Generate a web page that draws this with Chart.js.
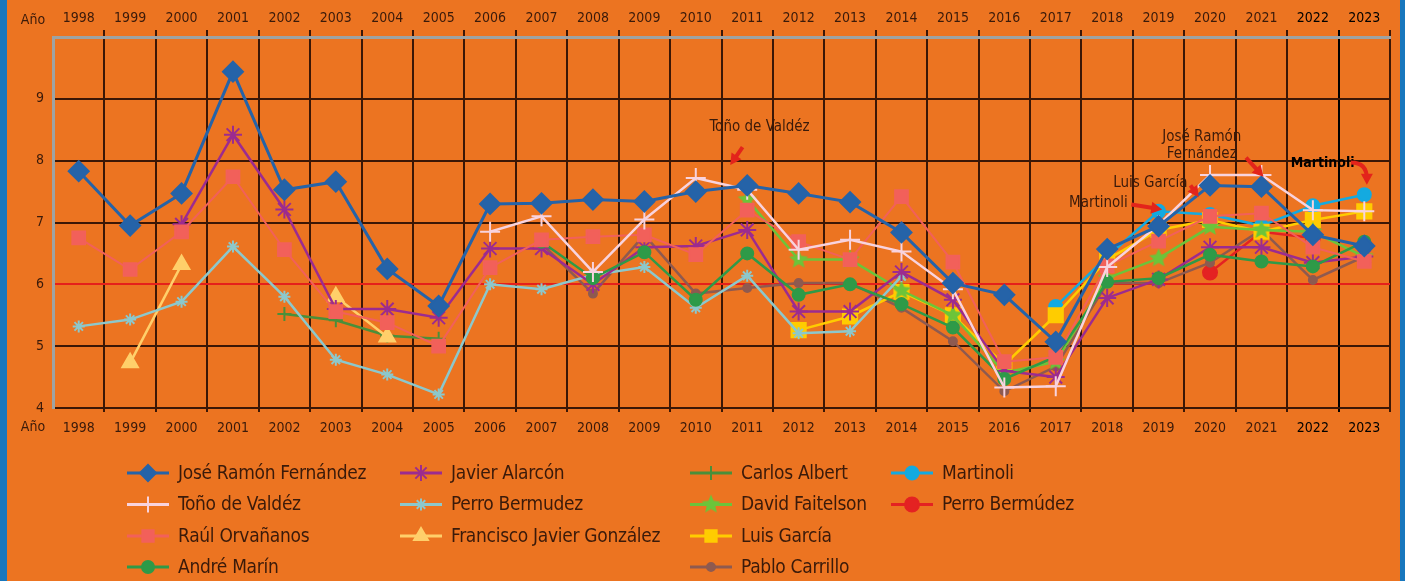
<!DOCTYPE html>
<html>
<head>
<meta charset="utf-8">
<script src="https://cdn.jsdelivr.net/npm/chart.js"></script>
<style>
html, body { margin: 0; padding: 0; background: #EC7421; }
#wrap { position: relative; width: 1405px; height: 581px; overflow: hidden; background: #EC7421; }
.bar { position: absolute; top: 0; height: 581px; background: #1877BD; }
</style>
</head>
<body>
<div id="wrap">
  <canvas id="chart" width="1405" height="581"></canvas>
  <div class="bar" style="left:0;width:7px"></div>
  <div class="bar" style="left:1400px;width:5px"></div>
</div>
<script>
const years = ['1998', '1999', '2000', '2001', '2002', '2003', '2004', '2005', '2006', '2007', '2008', '2009', '2010',
  '2011', '2012', '2013', '2014', '2015', '2016', '2017', '2018', '2019', '2020', '2021', '2022', '2023'];

const joseRamon   = [7.83, 6.95, 7.47, 9.44, 7.53, 7.66, 6.25, 5.65, 7.30, 7.31, 7.37, 7.34, 7.50, 7.60, 7.47, 7.33, 6.84, 6.02, 5.83, 5.07, 6.57, 6.94, 7.60, 7.58, 6.80, 6.62];
const tonoValdez  = [null, null, null, null, null, null, null, null, 6.85, 7.10, 6.20, 7.05, 7.72, 7.53, 6.56, 6.72, 6.53, 5.92, 4.33, 4.35, 6.28, 6.96, 7.77, 7.77, 7.20, 7.18];
const raulOrva    = [6.75, 6.24, 6.85, 7.74, 6.56, 5.56, 5.38, 5.00, 6.27, 6.72, 6.77, 6.80, 6.48, 7.20, 6.69, 6.40, 7.42, 6.36, 4.75, 4.82, 6.30, 6.70, 7.10, 7.15, 6.60, 6.37];
const andreMarin  = [null, null, null, null, null, null, null, null, null, 6.69, 6.10, 6.52, 5.75, 6.50, 5.83, 6.00, 5.68, 5.30, 4.47, 4.83, 6.04, 6.10, 6.48, 6.37, 6.29, 6.69];
const javierAlar  = [null, null, 6.97, 8.42, 7.21, 5.60, 5.60, 5.46, 6.58, 6.58, 6.00, 6.60, 6.62, 6.88, 5.56, 5.56, 6.20, 5.75, 4.60, 4.50, 5.78, 6.08, 6.60, 6.60, 6.35, 6.45];
const perroBermu  = [5.32, 5.43, 5.72, 6.61, 5.80, 4.78, 4.54, 4.22, 6.00, 5.92, 6.15, 6.28, 5.62, 6.14, 5.21, 5.24, 6.13, null, null, null, null, null, null, null, null, null];
const franciscoJ  = [null, 4.73, 6.32, null, null, 5.80, 5.15, null, null, null, null, null, null, null, null, null, null, null, null, null, null, null, null, null, null, null];
const carlosAlb   = [null, null, null, null, 5.52, 5.42, 5.17, 5.12, null, null, null, null, null, null, null, null, null, null, null, null, null, null, null, null, null, null];
const davidFait   = [null, null, null, null, null, null, null, null, null, null, null, null, null, 7.37, 6.40, 6.40, 5.90, 5.50, 4.57, 4.75, 6.10, 6.42, 6.93, 6.88, 6.85, 6.45];
const luisGarcia  = [null, null, null, null, null, null, null, null, null, null, null, null, null, null, 5.26, 5.48, 5.88, 5.50, 4.70, 5.50, 6.40, 6.88, 7.04, 6.85, 7.04, 7.18];
const pabloCarr   = [null, null, null, null, null, null, null, null, null, 6.66, 5.85, 6.80, 5.85, 5.94, 6.02, 6.02, 5.62, 5.08, 4.27, 4.67, 6.02, 6.02, 6.35, 6.88, 6.07, 6.45];
const martinoli   = [null, null, null, null, null, null, null, null, null, null, null, null, null, null, null, null, null, null, null, 5.64, 6.45, 7.18, 7.13, 6.95, 7.27, 7.45];
const perroBermU  = [null, null, null, null, null, null, null, null, null, null, null, null, null, null, null, null, null, null, null, null, null, null, 6.19, 6.85, 6.75, null];

const yTicks = [4, 5, 6, 7, 8, 9];

const legendLayout = [
  ['José Ramón Fernández', 'Toño de Valdéz', 'Raúl Orvañanos', 'André Marín'],
  ['Javier Alarcón', 'Perro Bermudez', 'Francisco Javier González'],
  ['Carlos Albert', 'David Faitelson', 'Luis García', 'Pablo Carrillo'],
  ['Martinoli', 'Perro Bermúdez']
];

// callouts, placed in category-index / value space
const notes = [
  { lines: ['Toño de Valdéz'], at: [13.24, 8.54], from: [12.91, 8.22], to: [12.67, 7.93] },
  { lines: ['José Ramón', 'Fernández'], at: [21.84, 8.24], from: [22.70, 8.05], to: [23.04, 7.74] },
  { lines: ['Luis García'], at: [20.84, 7.63], from: [21.62, 7.60], to: [21.78, 7.41] },
  { lines: ['Martinoli'], at: [19.83, 7.31], from: [20.47, 7.29], to: [21.07, 7.21] },
  { lines: ['Martinoli'], at: [24.19, 7.95], from: [24.74, 7.97], to: [25.05, 7.61], bold: true, curve: true }
];

const FONT = '"Liberation Sans Narrow", "DejaVu Sans Condensed", "Liberation Sans", sans-serif';
const TXT = '#3A1A0A';
const DARK = '#3B1706';

function makeStar(color, r) {
  const c = document.createElement('canvas');
  c.width = c.height = 2 * r + 2;
  const g = c.getContext('2d');
  g.fillStyle = color;
  g.beginPath();
  for (let i = 0; i < 10; i++) {
    const rr = i % 2 ? r * 0.45 : r;
    const a = -Math.PI / 2 + i * Math.PI / 5;
    g.lineTo(r + 1 + rr * Math.cos(a), r + 1 + rr * Math.sin(a));
  }
  g.closePath();
  g.fill();
  return c;
}

function series(label, data, color, style, radius, width, extra) {
  return Object.assign({
    label: label,
    data: data,
    borderColor: color,
    backgroundColor: color,
    pointBackgroundColor: color,
    pointBorderColor: color,
    pointStyle: style,
    pointRadius: radius,
    pointBorderWidth: 2,
    borderWidth: width,
    tension: 0
  }, extra || {});
}

const vColor = (i) => i === 0 ? 'rgba(0,0,0,0)' : (i >= 25 ? '#000000' : DARK);

const annotatePlugin = {
  id: 'callouts',
  afterDatasetsDraw(chart) {
    const ctx = chart.ctx;
    const xs = chart.scales.x, ys = chart.scales.y;
    const P = (p) => [xs.getPixelForValue(p[0]), ys.getPixelForValue(p[1])];
    notes.forEach(n => {
      ctx.save();
      const [tx, ty] = P(n.at);
      ctx.font = (n.bold ? 'bold 14px ' : '15px ') + FONT;
      ctx.fillStyle = n.bold ? '#000' : TXT;
      ctx.textAlign = 'center';
      ctx.textBaseline = 'middle';
      n.lines.forEach((l, i) => ctx.fillText(l, tx, ty + (i - (n.lines.length - 1) / 2) * 17));
      const [fx, fy] = P(n.from), [ex, ey] = P(n.to);
      ctx.strokeStyle = '#E3241B';
      ctx.fillStyle = '#E3241B';
      ctx.lineWidth = 4;
      ctx.beginPath();
      ctx.moveTo(fx, fy);
      let ang;
      if (n.curve) {
        const cx = ex, cy = fy;
        ctx.quadraticCurveTo(cx, cy, ex, ey - 6);
        ang = Math.atan2(ey - cy, ex - cx);
      } else {
        ang = Math.atan2(ey - fy, ex - fx);
        ctx.lineTo(ex - 6 * Math.cos(ang), ey - 6 * Math.sin(ang));
      }
      ctx.stroke();
      ctx.beginPath();
      ctx.moveTo(ex, ey);
      ctx.lineTo(ex - 11 * Math.cos(ang) + 6 * Math.sin(ang), ey - 11 * Math.sin(ang) - 6 * Math.cos(ang));
      ctx.lineTo(ex - 11 * Math.cos(ang) - 6 * Math.sin(ang), ey - 11 * Math.sin(ang) + 6 * Math.cos(ang));
      ctx.closePath();
      ctx.fill();
      ctx.restore();
    });
  }
};

const sideLabelPlugin = {
  id: 'anoLabels',
  afterDraw(chart) {
    const ctx = chart.ctx;
    ctx.save();
    ctx.font = '14px ' + FONT;
    ctx.fillStyle = TXT;
    ctx.textAlign = 'center';
    ctx.textBaseline = 'middle';
    const xb = chart.scales.x, xt = chart.scales.x2;
    const yb = xb.top + xb.options.grid.tickLength + xb.options.ticks.padding + 7;
    const yt = xt.bottom - xt.options.grid.tickLength - xt.options.ticks.padding - 7;
    ctx.fillText('Año', 33, yb);
    ctx.fillText('Año', 33, yt);
    ctx.restore();
  }
};

const legendPlugin = {
  id: 'gridLegend',
  afterDraw(chart) {
    const ctx = chart.ctx;
    const colX = [148, 421, 711, 912];
    const rowY = [473, 504.5, 536, 567];
    legendLayout.forEach((col, ci) => {
      col.forEach((name, ri) => {
        const ds = chart.data.datasets.find(d => d.label === name);
        const x = colX[ci], y = rowY[ri];
        ctx.save();
        ctx.strokeStyle = ds.borderColor;
        ctx.lineWidth = 3;
        ctx.beginPath();
        ctx.moveTo(x - 21, y);
        ctx.lineTo(x + 21, y);
        ctx.stroke();
        ctx.fillStyle = ds.pointBackgroundColor;
        ctx.strokeStyle = ds.pointBorderColor;
        ctx.lineWidth = ds.pointBorderWidth;
        Chart.helpers.drawPoint(ctx, {
          pointStyle: ds.pointStyle, rotation: 0,
          radius: Math.min(ds.pointRadius, 8), borderWidth: ds.pointBorderWidth
        }, x, y);
        ctx.fillStyle = TXT;
        ctx.font = '19px ' + FONT;
        ctx.letterSpacing = '-0.3px';
        ctx.textAlign = 'left';
        ctx.textBaseline = 'middle';
        ctx.fillText(name, x + 30, y + 1);
        ctx.restore();
      });
    });
  }
};

const tickFont = { family: FONT, size: 14 };

new Chart(document.getElementById('chart'), {
  type: 'line',
  data: {
    labels: years,
    datasets: [
      series('José Ramón Fernández', joseRamon, '#2563A8', 'rectRot', 10, 3),
      series('Toño de Valdéz', tonoValdez, '#F8D3DE', 'cross', 10, 2.5),
      series('Raúl Orvañanos', raulOrva, '#F2605A', 'rect', 9, 2),
      series('André Marín', andreMarin, '#2E9A48', 'circle', 6, 2.5),
      series('Javier Alarcón', javierAlar, '#9C2B8F', 'star', 9, 2.5),
      series('Perro Bermudez', perroBermu, '#8CC8CC', 'star', 6, 2.5),
      series('Francisco Javier González', franciscoJ, '#FFCF6A', 'triangle', 9, 2.5),
      series('Carlos Albert', carlosAlb, '#4A8F3A', 'cross', 7, 2.5),
      series('David Faitelson', davidFait, '#6CC43A', makeStar('#6CC43A', 10), 10, 2.5),
      series('Luis García', luisGarcia, '#FFCC00', 'rect', 10, 2.5),
      series('Pablo Carrillo', pabloCarr, '#8E5A50', 'circle', 4, 2.5),
      series('Martinoli', martinoli, '#14AAE0', 'circle', 6.5, 2.5),
      series('Perro Bermúdez', perroBermU, '#E42222', 'circle', 7, 2.5)
    ]
  },
  options: {
    responsive: false,
    animation: false,
    events: [],
    devicePixelRatio: 1,
    layout: { padding: { left: 7, right: 15, top: 0, bottom: 133 } },
    plugins: { legend: { display: false }, tooltip: { enabled: false } },
    scales: {
      x: {
        type: 'category', labels: years, position: 'bottom', offset: true,
        grid: { offset: true, color: c => vColor(c.index), lineWidth: 2, drawTicks: true, tickLength: 4 },
        border: { display: true, color: DARK, width: 2 },
        ticks: { color: c => c.index >= 24 ? '#000' : TXT, font: tickFont, padding: 8, maxRotation: 0, autoSkip: false },
        afterFit: s => { s.height = 40; }
      },
      x2: {
        type: 'category', labels: years, position: 'top', offset: true,
        grid: { offset: true, drawOnChartArea: false, color: c => vColor(c.index), lineWidth: 2, drawTicks: true, tickLength: 7 },
        border: { display: true, color: '#9EA3A3', width: 3 },
        ticks: { color: c => c.index >= 24 ? '#000' : TXT, font: tickFont, padding: 3, maxRotation: 0, autoSkip: false },
        afterFit: s => { s.height = 37; }
      },
      y: {
        min: 4, max: 10,
        afterBuildTicks: s => { s.ticks = yTicks.concat([10]).map(v => ({ value: v })); },
        ticks: { callback: v => v === 10 ? '' : v, color: TXT, font: tickFont, padding: 9 },
        grid: {
          drawTicks: false, lineWidth: 2,
          color: c => c.tick.value === 6 ? '#E5201B' : (c.tick.value === 10 ? 'rgba(0,0,0,0)' : DARK)
        },
        border: { display: true, color: '#9EA3A3', width: 3 },
        afterFit: s => { s.width = 46; }
      }
    }
  },
  plugins: [annotatePlugin, sideLabelPlugin, legendPlugin]
});
</script>
</body>
</html>
